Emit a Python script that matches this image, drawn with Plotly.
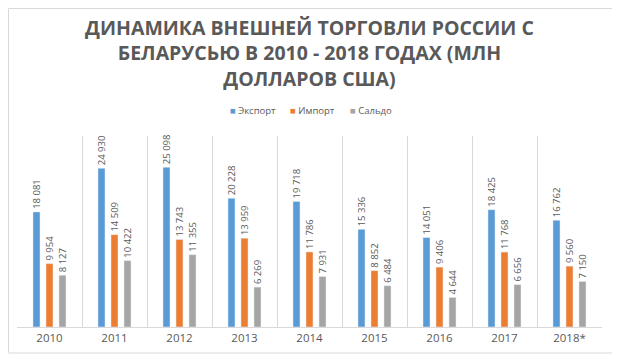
import plotly.graph_objects as go

years = ["2010", "2011", "2012", "2013", "2014", "2015", "2016", "2017", "2018*"]
export_vals = [18081, 24930, 25098, 20228, 19718, 15336, 14051, 18425, 16762]
import_vals = [9954, 14509, 13743, 13959, 11786, 8852, 9406, 11768, 9560]
saldo_vals = [8127, 10422, 11355, 6269, 7931, 6484, 4644, 6656, 7150]

series = [
    ("Экспорт", export_vals, "#5B9BD5"),
    ("Импорт", import_vals, "#ED7D31"),
    ("Сальдо", saldo_vals, "#A5A5A5"),
]

def fmt(v):
    return f"{v:,}".replace(",", " ")

# page body has an 8px margin, so the figure is 8px smaller than the window
OFF = 8
W, H = 620 - OFF, 359 - OFF
L, T = 17 - OFF, 136 - OFF
R = W - (602 - OFF)
B = H - (327 - OFF)
pw, ph = W - L - R, H - T - B

def px_x(p):  # page pixel -> paper x
    return (p - OFF - L) / pw

def px_y(p):  # page pixel -> paper y
    return 1 - ((p - OFF) - T) / ph

fig = go.Figure()
for name, vals, color in series:
    fig.add_trace(go.Bar(
        x=years, y=vals, name=name, marker_color=color,
        text=[fmt(v) for v in vals], textposition="outside", textangle=-90,
        constraintext="none",
        textfont=dict(family="Open Sans", size=9.5, color="#595959"),
        cliponaxis=False, showlegend=False,
    ))

# compact legend built from the series names
legend_x_px = [228, 288, 348]
annotations = []
for (name, vals, color), xp in zip(series, legend_x_px):
    annotations.append(dict(
        xref="paper", yref="paper",
        x=px_x(xp), y=px_y(110),
        xanchor="left", yanchor="middle", showarrow=False,
        text=f"<span style='color:{color}'>■</span> {name}",
        font=dict(family="Open Sans", size=9.5, color="#595959"),
    ))

fig.update_layout(
    width=W, height=H,
    margin=dict(l=L, r=R, t=T, b=B, autoexpand=False),
    paper_bgcolor="white", plot_bgcolor="white",
    barmode="group", bargap=0.4, bargroupgap=0.46,
    title=dict(
        text="ДИНАМИКА ВНЕШНЕЙ ТОРГОВЛИ РОССИИ С<br>БЕЛАРУСЬЮ В 2010 - 2018 ГОДАХ (МЛН<br>ДОЛЛАРОВ США)",
        x=0.5, xanchor="center", xref="paper", yref="container", y=1 - 27 / H, yanchor="top",
        font=dict(family="Open Sans", size=19.5, color="#595959", weight="bold"),
    ),
    xaxis=dict(
        type="category", tickson="boundaries", showgrid=True, gridcolor="#D9D9D9",
        showline=True, linecolor="#D9D9D9", ticks="", automargin=False,
        tickfont=dict(family="Open Sans", size=11.5, color="#595959"),
    ),
    yaxis=dict(range=[0, 30000], visible=False, showgrid=False, automargin=False),
    annotations=annotations,
    shapes=[dict(
        type="rect", xref="paper", yref="paper",
        x0=px_x(8.5), x1=px_x(614), y0=px_y(353), y1=px_y(8.5),
        line=dict(color="#D9D9D9", width=1), layer="below",
    )],
)

fig.write_html("out.html")
